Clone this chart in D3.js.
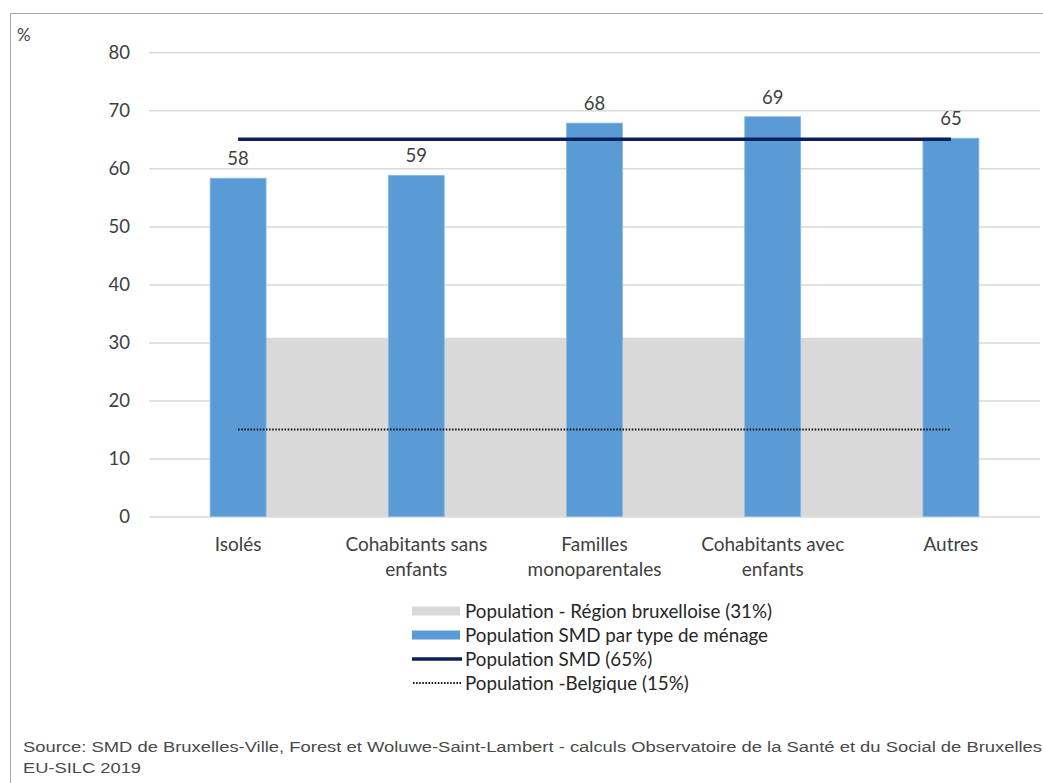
<!DOCTYPE html>
<html>
<head>
<meta charset="utf-8">
<script src="https://cdn.jsdelivr.net/npm/d3@7"></script>
<style>
  html, body { margin: 0; padding: 0; background: #ffffff; }
  svg { display: block; }
</style>
</head>
<body>
<svg id="chart" width="1043" height="783"></svg>
<script>
// Household types
const categories = [
  ["Isolés"],
  ["Cohabitants sans", "enfants"],
  ["Familles", "monoparentales"],
  ["Cohabitants avec", "enfants"],
  ["Autres"]
];
// Share (%) of the SMD population per household type
const smdByHousehold = [58.3, 58.8, 67.8, 68.9, 65.2];
// Reference levels (%)
const regionBrussels = 30.8;
const smdOverall = 65;
const belgium = 15;
const yTicks = [0, 10, 20, 30, 40, 50, 60, 70, 80];

const legendItems = [
  { label: "Population - Région bruxelloise (31%)", type: "area" },
  { label: "Population SMD par type de ménage", type: "bar" },
  { label: "Population SMD (65%)", type: "line" },
  { label: "Population -Belgique (15%)", type: "dots" }
];
const sourceLines = [
  "Source: SMD de Bruxelles-Ville, Forest et Woluwe-Saint-Lambert - calculs Observatoire de la Santé et du Social de Bruxelles",
  "EU-SILC 2019"
];

const COLORS = {
  bar: "#5B9BD5",
  barEdge: "#8DBAE4",
  area: "#D9D9D9",
  line: "#0B1F5E",
  dots: "#111111",
  grid: "#D9D9D9",
  text: "#404040",
  frame: "#A6A6A6"
};
const FONT = "Lato, 'Open Sans', sans-serif";

const svg = d3.select("#chart");
const keys = categories.map((c, i) => i);

const x = d3.scaleBand()
  .domain(keys)
  .range([149, 1040])
  .paddingInner(0.686)
  .paddingOuter(0.343);
const cx = i => x(i) + x.bandwidth() / 2;

const y = d3.scaleLinear().domain([0, 80]).range([516.5, 52.3]);

// Outer frame (top and left edges)
svg.append("path")
  .attr("d", "M10.5,783 V13.5 H1043")
  .attr("fill", "none")
  .attr("stroke", COLORS.frame)
  .attr("stroke-width", 1);

// Unit label
svg.append("text")
  .attr("x", 17).attr("y", 41)
  .attr("font-family", FONT).attr("font-size", 17)
  .attr("fill", COLORS.text)
  .text("%");

// Y axis: gridlines and tick labels
const yAxis = d3.axisLeft(y)
  .tickValues(yTicks)
  .tickSize(-(1040 - 149))
  .tickPadding(19)
  .tickFormat(d3.format("d"));
const gy = svg.append("g")
  .attr("transform", "translate(149,0)")
  .call(yAxis);
gy.select(".domain").remove();
gy.selectAll(".tick line")
  .attr("stroke", COLORS.grid)
  .attr("stroke-width", 1.5);
gy.selectAll(".tick text")
  .attr("font-family", FONT)
  .attr("font-size", 18.5)
  .attr("fill", COLORS.text);

// Brussels region level as a shaded area spanning the categories
const area = d3.area()
  .x(i => cx(i))
  .y0(y(0))
  .y1(() => y(regionBrussels));
svg.append("path")
  .datum(keys)
  .attr("d", area)
  .attr("fill", COLORS.area);

// Bars: SMD population by household type
svg.append("g")
  .selectAll("rect")
  .data(smdByHousehold)
  .join("rect")
  .attr("x", (d, i) => x(i))
  .attr("y", d => y(d))
  .attr("width", x.bandwidth())
  .attr("height", d => y(0) - y(d))
  .attr("fill", COLORS.bar)
  .attr("stroke", COLORS.barEdge)
  .attr("stroke-width", 0.8);

// Belgium level: dotted line
const flatLine = v => d3.line().x(i => cx(i)).y(() => y(v));
svg.append("path")
  .datum(keys)
  .attr("d", flatLine(belgium))
  .attr("fill", "none")
  .attr("stroke", COLORS.dots)
  .attr("stroke-width", 2)
  .attr("stroke-dasharray", "1.5 1.6");

// Overall SMD level: solid navy line
svg.append("path")
  .datum(keys)
  .attr("d", flatLine(smdOverall))
  .attr("fill", "none")
  .attr("stroke", COLORS.line)
  .attr("stroke-width", 3.5);

// Value labels above bars
svg.append("g")
  .selectAll("text")
  .data(smdByHousehold)
  .join("text")
  .attr("x", (d, i) => cx(i))
  .attr("y", d => y(d) - 13)
  .attr("text-anchor", "middle")
  .attr("font-family", FONT)
  .attr("font-size", 18.5)
  .attr("fill", COLORS.text)
  .text(d => d3.format(".0f")(d));

// Category labels
const catG = svg.append("g")
  .selectAll("text")
  .data(categories)
  .join("text")
  .attr("x", (d, i) => cx(i))
  .attr("y", 551)
  .attr("text-anchor", "middle")
  .attr("font-family", FONT)
  .attr("font-size", 19)
  .attr("fill", COLORS.text);
catG.selectAll("tspan")
  .data(d => d)
  .join("tspan")
  .attr("x", function () { return d3.select(this.parentNode).attr("x"); })
  .attr("dy", (d, j) => j === 0 ? 0 : 25)
  .text(d => d);

// Legend
const legend = svg.append("g").attr("transform", "translate(412,611)");
const rows = legend.selectAll("g")
  .data(legendItems)
  .join("g")
  .attr("transform", (d, i) => `translate(0,${i * 24})`);
rows.each(function (d) {
  const g = d3.select(this);
  if (d.type === "area" || d.type === "bar") {
    g.append("rect")
      .attr("x", 0).attr("y", -4.5)
      .attr("width", 48).attr("height", 9)
      .attr("fill", d.type === "area" ? COLORS.area : COLORS.bar);
  } else if (d.type === "line") {
    g.append("line")
      .attr("x1", 0).attr("x2", 50).attr("y1", 0).attr("y2", 0)
      .attr("stroke", COLORS.line).attr("stroke-width", 3.5);
  } else {
    g.append("line")
      .attr("x1", 1).attr("x2", 49).attr("y1", 0).attr("y2", 0)
      .attr("stroke", COLORS.dots).attr("stroke-width", 2)
      .attr("stroke-dasharray", "1.5 1.6");
  }
  g.append("text")
    .attr("x", 53).attr("y", 0)
    .attr("dy", "0.35em")
    .attr("font-family", FONT)
    .attr("font-size", 18.8)
    .attr("fill", "#262626")
    .text(d.label);
});

// Source note
svg.append("g")
  .selectAll("text")
  .data(sourceLines)
  .join("text")
  .attr("x", 23)
  .attr("y", (d, i) => 752 + i * 21)
  .attr("font-family", "'Liberation Sans', Arial, sans-serif")
  .attr("font-size", 15.5)
  .attr("fill", "#4a4a4a")
  .each(function (d, i) {
    if (i === 0) {
      d3.select(this).attr("textLength", 1019).attr("lengthAdjust", "spacingAndGlyphs");
    } else {
      d3.select(this).attr("textLength", 118).attr("lengthAdjust", "spacingAndGlyphs");
    }
  })
  .text(d => d);
</script>
</body>
</html>
